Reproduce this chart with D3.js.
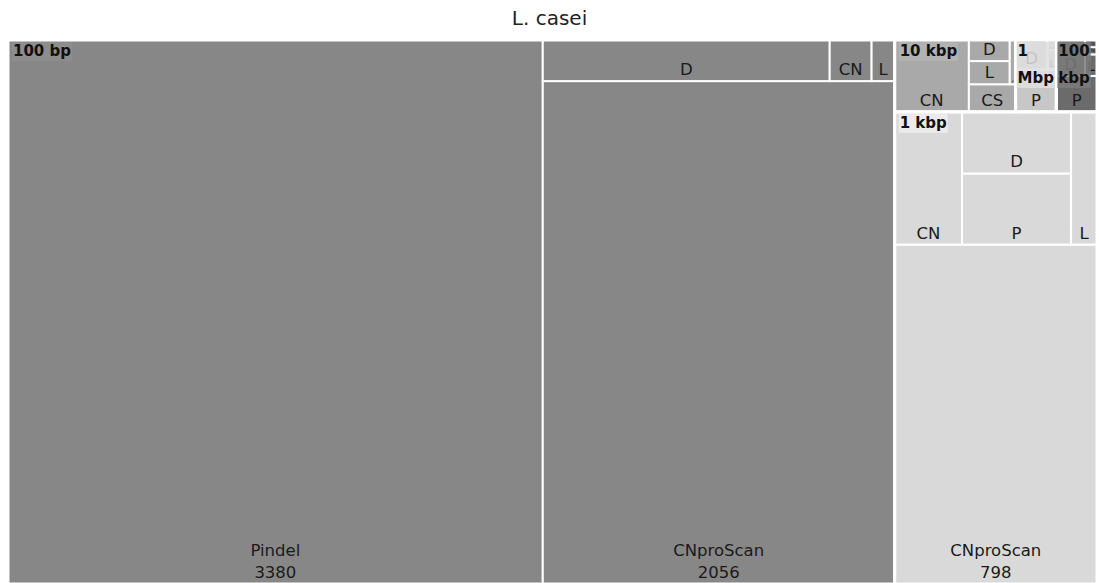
<!DOCTYPE html>
<html><head><meta charset="utf-8">
<script src="https://cdn.jsdelivr.net/npm/d3@7"></script>
<style>body{margin:0;background:#fff}svg{display:block}</style>
</head><body><svg id="c" width="1099" height="583"></svg>
<script>
// ---------- data ----------
const chartTitle = "L. casei";
const groups = ["100 bp", "1 kbp", "10 kbp", "1 Mbp", "100 kbp"];
const bp100Tools  = ["Pindel", "CNproScan", "D", "CN", "L"];
const bp100Values = [3380, 2056, 137, 20, 11];
const kbp1Tools   = ["CNproScan", "CN", "P", "D", "L"];
const kbp1Values  = [798, 104, 90, 78, 40];
const kbp10Tools  = ["CN", "CS", "L", "D", "P"];
const kbp10Values = [62, 15, 11, 10, 3];
const mbp1Tools   = ["P", "D", "L", "CN"];
const mbp1Values  = [20, 11, 2, 1];
const kbp100Tools = ["P", "D", "L", "CN", "CS"];
const kbp100Values = [17, 12, 3, 1, 1];

// ---------- styles ----------
const leafFill  = {"100 bp":"#878787","1 kbp":"#d9d9d9","10 kbp":"#a9a9a9","1 Mbp":"#c7c7c7","100 kbp":"#6b6b6b"};
const labelFill = {"100 bp":"#8e8e8e","1 kbp":"#eeeeee","10 kbp":"#b3b3b3","1 Mbp":"#e0e0e0","100 kbp":"#7c7c7c"};
const FONT = "'DejaVu Sans', sans-serif";
const leafSize = 16.5, groupSize = 15;

const toolLists = [bp100Tools, kbp1Tools, kbp10Tools, mbp1Tools, kbp100Tools];
const valueLists = [bp100Values, kbp1Values, kbp10Values, mbp1Values, kbp100Values];

const svg = d3.select("#c");
const X0 = 8, X1 = 1097, Y0 = 40, Y1 = 584;
const pw = X1 - X0, ph = Y1 - Y0;

const root = d3.hierarchy({name: "root", children: groups.map((g, i) => ({
    name: g, children: toolLists[i].map((t, j) => ({name: t, group: g, value: valueLists[i][j]}))
  }))})
  .sum(d => d.value || 0)
  .sort((a, b) => b.value - a.value);

d3.treemap().tile(d3.treemapSquarify.ratio(1)).size([pw, ph]).round(false)(root);

// layout is bottom-up (origin at lower left)
const xs = d3.scaleLinear().domain([0, pw]).range([X0, X1]);
const ys = d3.scaleLinear().domain([0, ph]).range([Y1, Y0]);
function box(n) { return {x0: xs(n.x0), x1: xs(n.x1), y0: ys(n.y1), y1: ys(n.y0)}; }

// title
svg.append("text").attr("x", 549.5).attr("y", 25).attr("text-anchor", "middle")
  .attr("font-family", FONT).attr("font-size", 20).attr("fill", "#222").text(chartTitle);

const leaves = root.leaves();
const gLeaf = svg.append("g");
leaves.forEach(n => {
  const b = box(n);
  gLeaf.append("rect").attr("x", b.x0).attr("y", b.y0).attr("width", b.x1 - b.x0).attr("height", b.y1 - b.y0)
    .attr("fill", leafFill[n.data.group]).attr("stroke", "#fff").attr("stroke-width", 2);
});
// leaf labels
leaves.forEach(n => {
  const b = box(n);
  const lines = n.data.name.length > 2 ? [n.data.name, String(n.data.value)] : [n.data.name];
  const t = gLeaf.append("text").attr("font-family", FONT).attr("font-size", leafSize)
    .attr("fill", "#1a1a1a").attr("text-anchor", "middle");
  lines.forEach(l => t.append("tspan").text(l));
  let w = 0;
  t.selectAll("tspan").each(function(){ w = Math.max(w, this.getComputedTextLength()); });
  const rw = b.x1 - b.x0, rh = b.y1 - b.y0;
  const need = leafSize + 22 * (lines.length - 1);
  const s = Math.min(1, (rw - 4) / w, (rh - 2) / need);
  t.attr("font-size", leafSize * s);
  const cx = (b.x0 + b.x1) / 2;
  t.selectAll("tspan").attr("x", cx)
    .attr("y", (d, i) => b.y1 - 6 * s - 22 * s * (lines.length - 1 - i));
});

// group borders
const groupsN = root.children;
groupsN.forEach(n => {
  const b = box(n);
  svg.append("rect").attr("x", b.x0).attr("y", b.y0).attr("width", b.x1 - b.x0).attr("height", b.y1 - b.y0)
    .attr("fill", "none").attr("stroke", "#fff").attr("stroke-width", 3);
});
// group labels
groupsN.forEach(n => {
  const b = box(n);
  const rw = b.x1 - b.x0;
  const g = svg.append("g");
  const bg = g.append("rect").attr("fill", labelFill[n.data.name]).attr("fill-opacity", 0.86);
  const t = g.append("text").attr("font-family", FONT).attr("font-weight", "bold")
    .attr("font-size", groupSize).attr("fill", "#111");
  t.text(n.data.name);
  let lines = [n.data.name];
  if (t.node().getComputedTextLength() > rw - 8) lines = n.data.name.split(" ");
  t.text(null);
  lines.forEach(l => t.append("tspan").text(l));
  let w = 0;
  t.selectAll("tspan").each(function(){ w = Math.max(w, this.getComputedTextLength()); });
  const s = Math.min(1, (rw - 3) / w);
  t.attr("font-size", groupSize * s);
  const tx = lines.length > 1 ? b.x0 + 2 : b.x0 + 5;
  t.selectAll("tspan").attr("x", tx).attr("y", (d, i) => b.y0 + 16 + i * 27);
  w = w * s;
  const bottom = b.y0 + 16 + (lines.length - 1) * 27 + 5;
  bg.attr("x", tx - 1).attr("y", b.y0 + 2).attr("width", w + 2).attr("height", bottom - b.y0 - 2);
});
</script>
</body></html>
